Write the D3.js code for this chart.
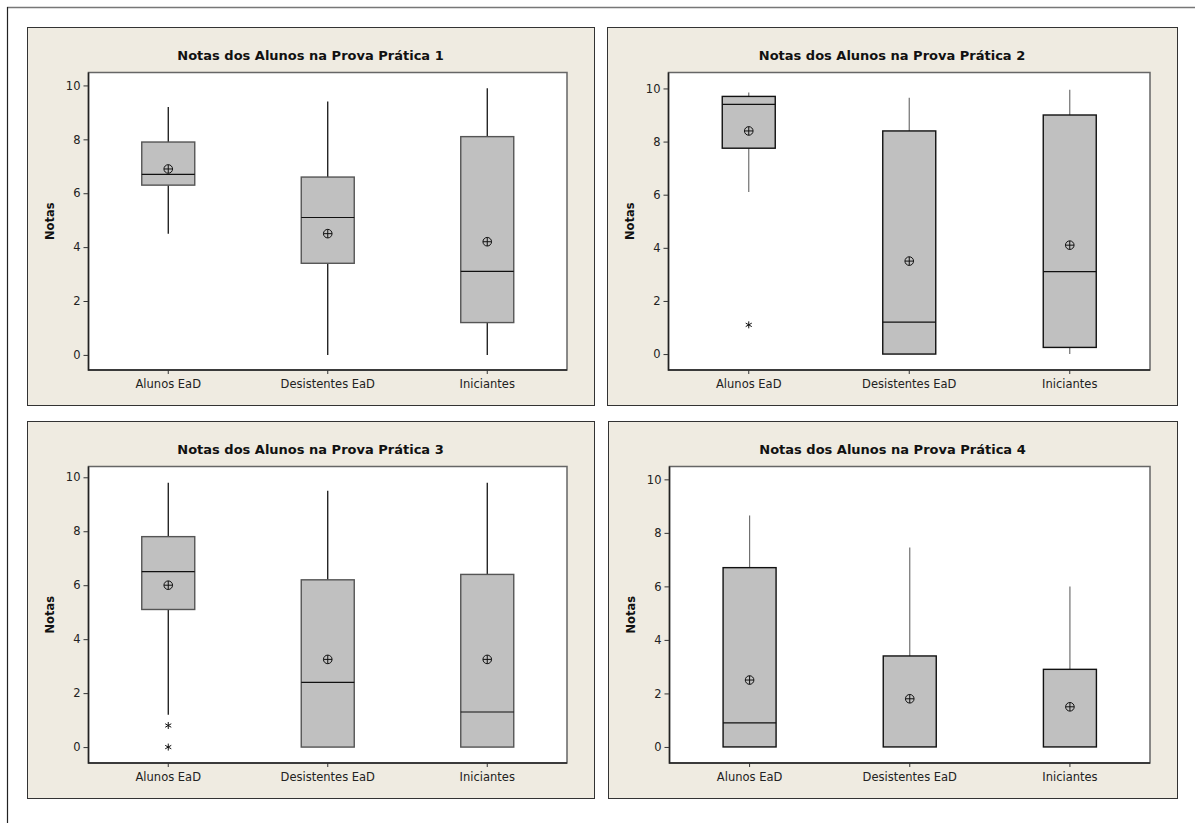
<!DOCTYPE html>
<html><head><meta charset="utf-8">
<script src="https://cdn.jsdelivr.net/npm/d3@7"></script>
<style>body{margin:0;background:#fff}svg{display:block}</style>
</head><body>
<svg id="c" width="1195" height="823"></svg>
<script>
const categories = ["Alunos EaD", "Desistentes EaD", "Iniciantes"];
const titles = ["Notas dos Alunos na Prova Prática 1", "Notas dos Alunos na Prova Prática 2",
                "Notas dos Alunos na Prova Prática 3", "Notas dos Alunos na Prova Prática 4"];
const yTicks = [0, 2, 4, 6, 8, 10];
const yLabel = "Notas";

// Prova 1
const p1Low = [4.5, 0, 0], p1Q1 = [6.3, 3.4, 1.2], p1Med = [6.7, 5.1, 3.1], p1Q3 = [7.9, 6.6, 8.1],
      p1High = [9.2, 9.4, 9.9], p1Mean = [6.9, 4.5, 4.2], p1Out = [[], [], []];
// Prova 2
const p2Low = [6.1, 0, 0], p2Q1 = [7.75, 0, 0.25], p2Med = [9.4, 1.2, 3.1], p2Q3 = [9.7, 8.4, 9.0],
      p2High = [9.85, 9.65, 9.95], p2Mean = [8.4, 3.5, 4.1], p2Out = [[1.1], [], []];
// Prova 3
const p3Low = [1.2, 0, 0], p3Q1 = [5.1, 0, 0], p3Med = [6.5, 2.4, 1.3], p3Q3 = [7.8, 6.2, 6.4],
      p3High = [9.8, 9.5, 9.8], p3Mean = [6.0, 3.25, 3.25], p3Out = [[0.8, 0], [], []];
// Prova 4
const p4Low = [0, 0, 0], p4Q1 = [0, 0, 0], p4Med = [0.9, 0, 0], p4Q3 = [6.7, 3.4, 2.9],
      p4High = [8.65, 7.45, 6.0], p4Mean = [2.5, 1.8, 1.5], p4Out = [[], [], []];

const panelsData = [
  {low: p1Low, q1: p1Q1, med: p1Med, q3: p1Q3, high: p1High, mean: p1Mean, out: p1Out},
  {low: p2Low, q1: p2Q1, med: p2Med, q3: p2Q3, high: p2High, mean: p2Mean, out: p2Out},
  {low: p3Low, q1: p3Q1, med: p3Med, q3: p3Q3, high: p3High, mean: p3Mean, out: p3Out},
  {low: p4Low, q1: p4Q1, med: p4Med, q3: p4Q3, high: p4High, mean: p4Mean, out: p4Out}
];

// layout (px)
const panelBoxes = [
  {x: 27, y: 27, w: 567, h: 378, dom: [-0.56, 10.48], whisk: "#000", boxStroke: "#555"},
  {x: 607, y: 27, w: 570, h: 378, dom: [-0.6, 10.6], whisk: "#707070", boxStroke: "#111"},
  {x: 27, y: 421, w: 567, h: 377, dom: [-0.59, 10.4], whisk: "#000", boxStroke: "#555"},
  {x: 608, y: 421, w: 569, h: 377, dom: [-0.6, 10.48], whisk: "#707070", boxStroke: "#111"}
];
const FONT = "DejaVu Sans, Verdana, sans-serif";

const svg = d3.select("#c");
// outer frame
svg.append("line").attr("x1", 7).attr("x2", 1195).attr("y1", 7.5).attr("y2", 7.5).attr("stroke", "#777").attr("stroke-width", 1.5);
svg.append("line").attr("x1", 7.5).attr("x2", 7.5).attr("y1", 7).attr("y2", 823).attr("stroke", "#222").attr("stroke-width", 1.2);

panelBoxes.forEach((pb, i) => {
  const d = panelsData[i];
  const g = svg.append("g").attr("transform", `translate(${pb.x},${pb.y})`);
  g.append("rect").attr("x", 0.5).attr("y", 0.5).attr("width", pb.w).attr("height", pb.h)
    .attr("fill", "#efebe1").attr("stroke", "#333").attr("stroke-width", 1);
  const m = {l: 61.5, t: 45.5, r: 27, b: 35};
  const pw = pb.w - m.l - m.r, ph = pb.h - m.t - m.b;
  const x = d3.scaleBand().domain(categories).range([0, pw]);
  const y = d3.scaleLinear().domain(pb.dom).range([ph, 0]);
  const p = g.append("g").attr("transform", `translate(${m.l},${m.t})`);
  p.append("rect").attr("width", pw).attr("height", ph).attr("fill", "#fff");

  // title
  g.append("text").attr("x", pb.w / 2).attr("y", 33).attr("text-anchor", "middle")
    .attr("font-family", FONT).attr("font-weight", "bold").attr("font-size", 13).attr("fill", "#111")
    .text(titles[i]);
  // y label
  g.append("text").attr("transform", `translate(${27},${m.t + ph / 2}) rotate(-90)`).attr("text-anchor", "middle")
    .attr("font-family", FONT).attr("font-weight", "bold").attr("font-size", 11.5).attr("fill", "#111")
    .text(yLabel);

  // axes
  const ya = p.append("g").call(d3.axisLeft(y).tickValues(yTicks).tickSize(5).tickPadding(3));
  ya.select(".domain").remove();
  ya.selectAll("text").attr("font-family", FONT).attr("font-size", 11.5).attr("fill", "#222");
  ya.selectAll("line").attr("stroke", "#333");
  const xa = p.append("g").attr("transform", `translate(0,${ph})`).call(d3.axisBottom(x).tickSize(4).tickPadding(6));
  xa.select(".domain").remove();
  xa.selectAll("text").attr("font-family", FONT).attr("font-size", 11.5).attr("fill", "#222");
  xa.selectAll("line").attr("stroke", "#333");

  const bw = 53;
  categories.forEach((c, k) => {
    const cx = x(c) + x.bandwidth() / 2;
    // whiskers
    if (d.high[k] > d.q3[k]) p.append("line").attr("x1", cx).attr("x2", cx).attr("y1", y(d.q3[k])).attr("y2", y(d.high[k])).attr("stroke", pb.whisk).attr("stroke-width", 1.2);
    if (d.low[k] < d.q1[k]) p.append("line").attr("x1", cx).attr("x2", cx).attr("y1", y(d.q1[k])).attr("y2", y(d.low[k])).attr("stroke", pb.whisk).attr("stroke-width", 1.2);
    // box
    p.append("rect").attr("x", cx - bw / 2).attr("y", y(d.q3[k])).attr("width", bw)
      .attr("height", y(d.q1[k]) - y(d.q3[k])).attr("fill", "#c0c0c0").attr("stroke", pb.boxStroke).attr("stroke-width", 1.4);
    // median (skip when it coincides with a box edge)
    if (d.med[k] > d.q1[k] && d.med[k] < d.q3[k])
      p.append("line").attr("x1", cx - bw / 2).attr("x2", cx + bw / 2).attr("y1", y(d.med[k])).attr("y2", y(d.med[k])).attr("stroke", "#111").attr("stroke-width", 1.2);
    // mean symbol
    const my = y(d.mean[k]);
    const ms = p.append("g").attr("transform", `translate(${cx},${my})`);
    ms.append("circle").attr("r", 4.3).attr("fill", "none").attr("stroke", "#111").attr("stroke-width", 1);
    ms.append("line").attr("x1", -4.3).attr("x2", 4.3).attr("stroke", "#111").attr("stroke-width", 1);
    ms.append("line").attr("y1", -4.3).attr("y2", 4.3).attr("stroke", "#111").attr("stroke-width", 1);
    // outliers
    d.out[k].forEach(v => {
      const og = p.append("g").attr("transform", `translate(${cx},${y(v)})`);
      const s = 3.5;
      og.append("line").attr("y1", -s).attr("y2", s).attr("stroke", "#111").attr("stroke-width", 1);
      og.append("line").attr("x1", -s * 0.87).attr("x2", s * 0.87).attr("y1", -s / 2).attr("y2", s / 2).attr("stroke", "#111").attr("stroke-width", 1);
      og.append("line").attr("x1", -s * 0.87).attr("x2", s * 0.87).attr("y1", s / 2).attr("y2", -s / 2).attr("stroke", "#111").attr("stroke-width", 1);
    });
  });

  // frame of plot area
  p.append("path").attr("d", `M0,${ph}V0H${pw}V${ph}Z`).attr("fill", "none").attr("stroke", "#666").attr("stroke-width", 1.5);
  p.append("path").attr("d", `M0,0V${ph}H${pw}`).attr("fill", "none").attr("stroke", "#222").attr("stroke-width", 1.5);
});
</script>
</body></html>
